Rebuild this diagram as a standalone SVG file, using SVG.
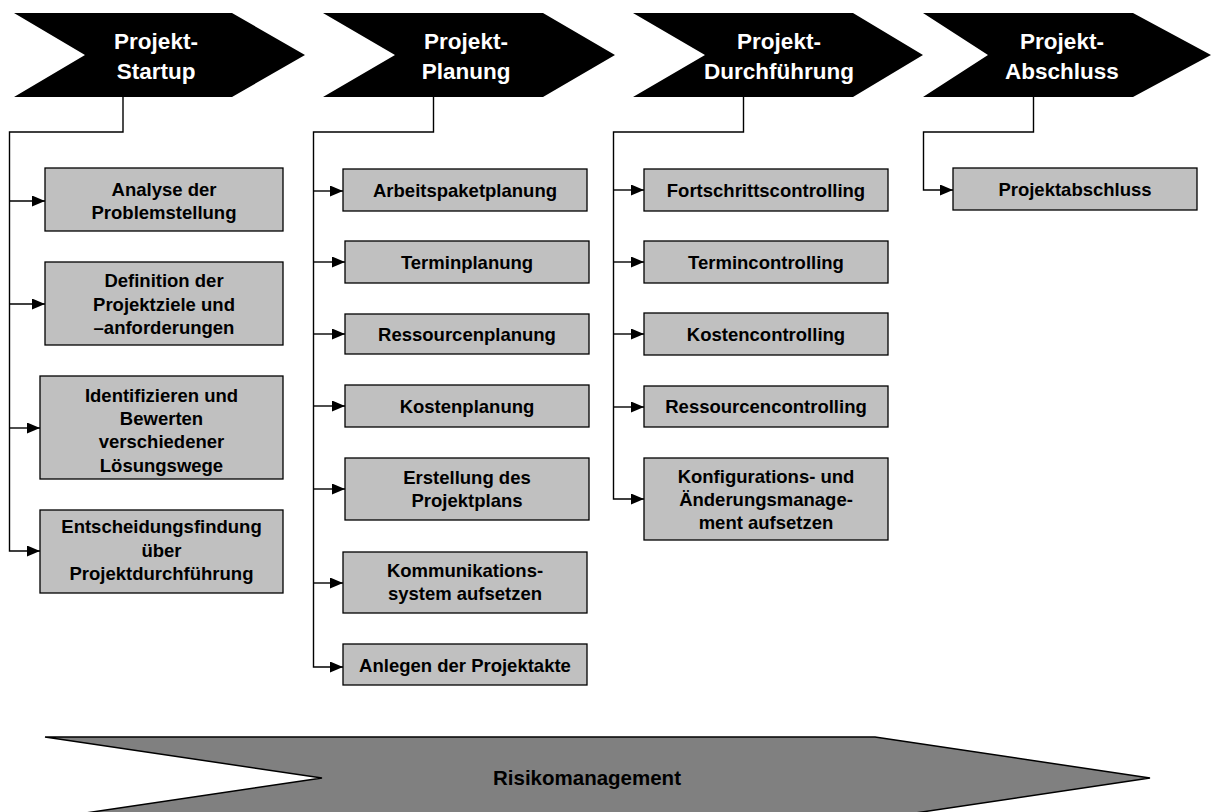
<svg xmlns="http://www.w3.org/2000/svg" width="1211" height="812" viewBox="0 0 1211 812">
  <style>
    .phase { fill: #000000; }
    .phase-label { fill: #ffffff; font-family: "Liberation Sans", Arial, sans-serif; font-weight: bold; font-size: 22.5px; text-anchor: middle; }
    .task { fill: #c0c0c0; stroke: #000000; stroke-width: 1.3; }
    .task-label { fill: #000000; font-family: "Liberation Sans", Arial, sans-serif; font-weight: bold; font-size: 18.5px; text-anchor: middle; }
    .link { fill: none; stroke: #000000; stroke-width: 1.4; }
    .risk { fill: #808080; stroke: #000000; stroke-width: 1.5; }
    .risk-label { fill: #000000; font-family: "Liberation Sans", Arial, sans-serif; font-weight: bold; font-size: 20.5px; text-anchor: middle; }
  </style>
  <defs>
    <marker id="arrow" viewBox="0 0 13 11" refX="13" refY="5.5" markerWidth="13" markerHeight="11" markerUnits="userSpaceOnUse" orient="auto">
      <path d="M0,0 L13,5.5 L0,11 Z" fill="#000000"/>
    </marker>
  </defs>

  <rect width="1211" height="812" fill="#ffffff"/>

  <!-- Phase chevrons -->
  <g id="phase-startup">
    <polygon class="phase" points="14,13 232,13 305,55 232,97 14,97 85,55"/>
    <text class="phase-label" x="156" y="49">Projekt-</text>
    <text class="phase-label" x="156" y="79">Startup</text>
  </g>
  <g id="phase-planung">
    <polygon class="phase" points="323,13 543,13 615,55 543,97 323,97 395,55"/>
    <text class="phase-label" x="466" y="49">Projekt-</text>
    <text class="phase-label" x="466" y="79">Planung</text>
  </g>
  <g id="phase-durchfuehrung">
    <polygon class="phase" points="633,13 853,13 923,55 853,97 633,97 705,55"/>
    <text class="phase-label" x="779" y="49">Projekt-</text>
    <text class="phase-label" x="779" y="79">Durchführung</text>
  </g>
  <g id="phase-abschluss">
    <polygon class="phase" points="923,13 1133,13 1211,55 1133,97 923,97 988,55"/>
    <text class="phase-label" x="1062" y="49">Projekt-</text>
    <text class="phase-label" x="1062" y="79">Abschluss</text>
  </g>

  <!-- Connectors -->
  <g id="connectors">
    <!-- Startup -->
    <polyline class="link" points="123,97 123,132 9.5,132 9.5,551 40,551" marker-end="url(#arrow)"/>
    <line class="link" x1="9.5" y1="201" x2="45" y2="201" marker-end="url(#arrow)"/>
    <line class="link" x1="9.5" y1="304" x2="45" y2="304" marker-end="url(#arrow)"/>
    <line class="link" x1="9.5" y1="428" x2="40" y2="428" marker-end="url(#arrow)"/>
    <!-- Planung -->
    <polyline class="link" points="433.5,97 433.5,132 313.5,132 313.5,667 343,667" marker-end="url(#arrow)"/>
    <line class="link" x1="313.5" y1="191" x2="343" y2="191" marker-end="url(#arrow)"/>
    <line class="link" x1="313.5" y1="262" x2="345" y2="262" marker-end="url(#arrow)"/>
    <line class="link" x1="313.5" y1="334" x2="345" y2="334" marker-end="url(#arrow)"/>
    <line class="link" x1="313.5" y1="406" x2="345" y2="406" marker-end="url(#arrow)"/>
    <line class="link" x1="313.5" y1="489" x2="345" y2="489" marker-end="url(#arrow)"/>
    <line class="link" x1="313.5" y1="583" x2="343" y2="583" marker-end="url(#arrow)"/>
    <!-- Durchführung -->
    <polyline class="link" points="743.5,97 743.5,132 613.5,132 613.5,499 644,499" marker-end="url(#arrow)"/>
    <line class="link" x1="613.5" y1="190" x2="644" y2="190" marker-end="url(#arrow)"/>
    <line class="link" x1="613.5" y1="262" x2="644" y2="262" marker-end="url(#arrow)"/>
    <line class="link" x1="613.5" y1="334" x2="644" y2="334" marker-end="url(#arrow)"/>
    <line class="link" x1="613.5" y1="407" x2="644" y2="407" marker-end="url(#arrow)"/>
    <!-- Abschluss -->
    <polyline class="link" points="1033.5,97 1033.5,132 923.5,132 923.5,190 953,190" marker-end="url(#arrow)"/>
  </g>

  <!-- Startup tasks -->
  <g id="task-analyse">
    <rect class="task" x="45" y="168" width="238" height="63"/>
    <text class="task-label" x="164" y="196">Analyse der</text>
    <text class="task-label" x="164" y="219">Problemstellung</text>
  </g>
  <g id="task-definition">
    <rect class="task" x="45" y="262" width="238" height="83"/>
    <text class="task-label" x="164" y="287">Definition der</text>
    <text class="task-label" x="164" y="311">Projektziele und</text>
    <text class="task-label" x="164" y="334">–anforderungen</text>
  </g>
  <g id="task-identifizieren">
    <rect class="task" x="40" y="376" width="243" height="103"/>
    <text class="task-label" x="161.5" y="402">Identifizieren und</text>
    <text class="task-label" x="161.5" y="425">Bewerten</text>
    <text class="task-label" x="161.5" y="448">verschiedener</text>
    <text class="task-label" x="161.5" y="472">Lösungswege</text>
  </g>
  <g id="task-entscheidung">
    <rect class="task" x="40" y="510" width="243" height="83"/>
    <text class="task-label" x="161.5" y="533">Entscheidungsfindung</text>
    <text class="task-label" x="161.5" y="557">über</text>
    <text class="task-label" x="161.5" y="580">Projektdurchführung</text>
  </g>

  <!-- Planung tasks -->
  <g id="task-arbeitspaket">
    <rect class="task" x="343" y="169" width="244" height="42"/>
    <text class="task-label" x="465" y="197">Arbeitspaketplanung</text>
  </g>
  <g id="task-termin">
    <rect class="task" x="345" y="241" width="244" height="42"/>
    <text class="task-label" x="467" y="269">Terminplanung</text>
  </g>
  <g id="task-ressourcen">
    <rect class="task" x="345" y="314" width="244" height="40"/>
    <text class="task-label" x="467" y="341">Ressourcenplanung</text>
  </g>
  <g id="task-kosten">
    <rect class="task" x="345" y="385" width="244" height="42"/>
    <text class="task-label" x="467" y="413">Kostenplanung</text>
  </g>
  <g id="task-projektplan">
    <rect class="task" x="345" y="458" width="244" height="62"/>
    <text class="task-label" x="467" y="484">Erstellung des</text>
    <text class="task-label" x="467" y="507">Projektplans</text>
  </g>
  <g id="task-kommunikation">
    <rect class="task" x="343" y="552" width="244" height="61"/>
    <text class="task-label" x="465" y="577">Kommunikations-</text>
    <text class="task-label" x="465" y="600">system aufsetzen</text>
  </g>
  <g id="task-projektakte">
    <rect class="task" x="343" y="644" width="244" height="41"/>
    <text class="task-label" x="465" y="672">Anlegen der Projektakte</text>
  </g>

  <!-- Durchführung tasks -->
  <g id="task-fortschritt">
    <rect class="task" x="644" y="169" width="244" height="42"/>
    <text class="task-label" x="766" y="197">Fortschrittscontrolling</text>
  </g>
  <g id="task-termincontrolling">
    <rect class="task" x="644" y="241" width="244" height="42"/>
    <text class="task-label" x="766" y="269">Termincontrolling</text>
  </g>
  <g id="task-kostencontrolling">
    <rect class="task" x="644" y="313" width="244" height="42"/>
    <text class="task-label" x="766" y="341">Kostencontrolling</text>
  </g>
  <g id="task-ressourcencontrolling">
    <rect class="task" x="644" y="386" width="244" height="41"/>
    <text class="task-label" x="766" y="413">Ressourcencontrolling</text>
  </g>
  <g id="task-konfiguration">
    <rect class="task" x="644" y="458" width="244" height="82"/>
    <text class="task-label" x="766" y="483">Konfigurations- und</text>
    <text class="task-label" x="766" y="506">Änderungsmanage-</text>
    <text class="task-label" x="766" y="529">ment aufsetzen</text>
  </g>

  <!-- Abschluss task -->
  <g id="task-projektabschluss">
    <rect class="task" x="953" y="168" width="244" height="42"/>
    <text class="task-label" x="1075" y="196">Projektabschluss</text>
  </g>

  <!-- Cross-phase risk management band -->
  <g id="risikomanagement">
    <polygon class="risk" points="45,737 875,737 1150,778 875,819 45,819 322,778"/>
    <text class="risk-label" x="587" y="785">Risikomanagement</text>
  </g>
</svg>
